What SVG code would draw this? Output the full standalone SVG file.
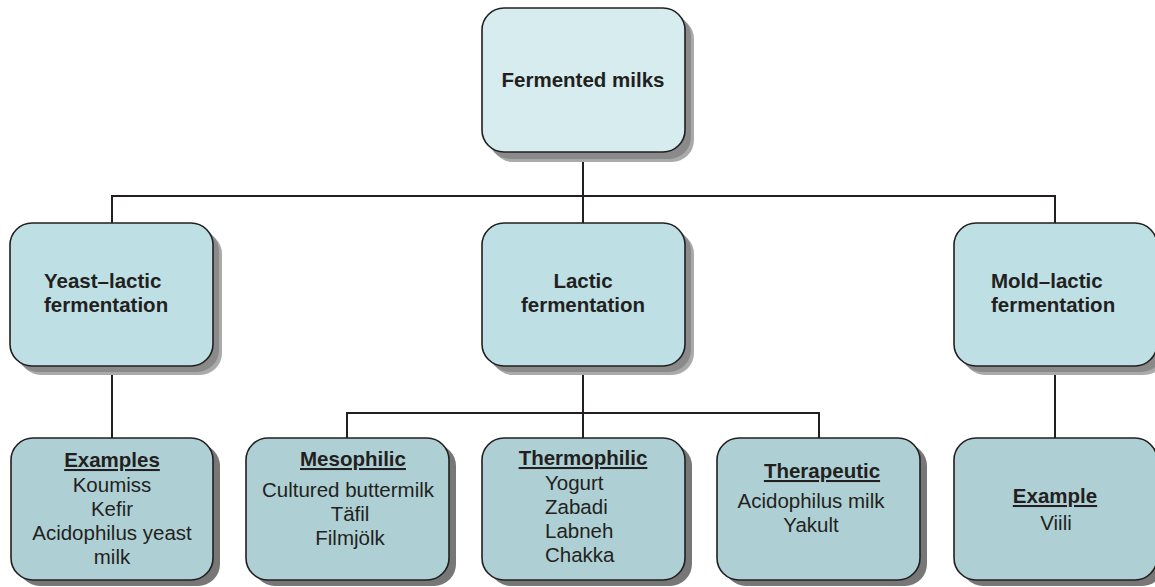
<svg xmlns="http://www.w3.org/2000/svg" width="1155" height="587" viewBox="0 0 1155 587">
  <style>
    .box { stroke: #231f20; stroke-width: 1.6; }
    .l1 { fill: #d6ecee; }
    .l2 { fill: #bee0e4; }
    .l3 { fill: #aed0d4; }
    .sh1 { fill: #aaaaaa; }
    .sh2 { fill: #8a8a8a; }
    .sh3 { fill: #777777; }
    .wire { stroke: #231f20; stroke-width: 2; fill: none; }
    text { font-family: "Liberation Sans", Arial, sans-serif; font-size: 20.5px; fill: #231f20; }
    .b { font-weight: bold; }
    .u { font-weight: bold; text-decoration: underline; }
    .c { text-anchor: middle; }
  </style>

  <rect width="1155" height="587" fill="#ffffff"/>

  <!-- connectors -->
  <g id="connectors">
    <path class="wire" d="M583 152 V196 M112 223 V196 H1055 V223 M583 196 V223"/>
    <path class="wire" d="M112 366 V438"/>
    <path class="wire" d="M583 366 V413 M347 438 V413 H819 V438 M583 413 V438"/>
    <path class="wire" d="M1055 366 V438"/>
  </g>

  <!-- root -->
  <g id="fermented-milks">
    <rect class="sh1" x="491" y="17" width="203" height="145" rx="22"/>
    <rect class="sh2" x="488" y="14" width="203" height="145" rx="22"/>
    <rect class="box l1" x="482" y="8" width="203" height="144" rx="22"/>
    <text class="b c" x="583" y="87">Fermented milks</text>
  </g>

  <!-- second level -->
  <g id="yeast-lactic">
    <rect class="sh1" x="19" y="232" width="203" height="143" rx="22"/>
    <rect class="sh2" x="16" y="229" width="203" height="143" rx="22"/>
    <rect class="box l2" x="10" y="223" width="203" height="143" rx="22"/>
    <text class="b" x="44" y="288">Yeast–lactic</text>
    <text class="b" x="44" y="312">fermentation</text>
  </g>

  <g id="lactic">
    <rect class="sh1" x="491" y="232" width="203" height="143" rx="22"/>
    <rect class="sh2" x="488" y="229" width="203" height="143" rx="22"/>
    <rect class="box l2" x="482" y="223" width="203" height="143" rx="22"/>
    <text class="b c" x="583" y="288">Lactic</text>
    <text class="b c" x="583" y="312">fermentation</text>
  </g>

  <g id="mold-lactic">
    <rect class="sh1" x="963" y="232" width="203" height="143" rx="22"/>
    <rect class="sh2" x="960" y="229" width="203" height="143" rx="22"/>
    <rect class="box l2" x="954" y="223" width="203" height="143" rx="22"/>
    <text class="b" x="991" y="288">Mold–lactic</text>
    <text class="b" x="991" y="312">fermentation</text>
  </g>

  <!-- third level -->
  <g id="examples">
    <rect class="sh3" x="18" y="444" width="202" height="142" rx="22"/>
    <rect class="box l3" x="11" y="438" width="202" height="142" rx="22"/>
    <text class="u c" x="112" y="467">Examples</text>
    <text class="c" x="112" y="492">Koumiss</text>
    <text class="c" x="112" y="516">Kefir</text>
    <text class="c" x="112" y="540">Acidophilus yeast</text>
    <text class="c" x="112" y="564">milk</text>
  </g>

  <g id="mesophilic">
    <rect class="sh3" x="253" y="444" width="203" height="142" rx="22"/>
    <rect class="box l3" x="246" y="438" width="203" height="142" rx="22"/>
    <text class="u c" x="353" y="466">Mesophilic</text>
    <text class="c" x="348" y="497">Cultured buttermilk</text>
    <text class="c" x="350" y="521">Täfil</text>
    <text class="c" x="350" y="545">Filmjölk</text>
  </g>

  <g id="thermophilic">
    <rect class="sh3" x="489" y="444" width="203" height="142" rx="22"/>
    <rect class="box l3" x="482" y="438" width="203" height="142" rx="22"/>
    <text class="u c" x="583" y="465">Thermophilic</text>
    <text x="545" y="490">Yogurt</text>
    <text x="545" y="514">Zabadi</text>
    <text x="545" y="538">Labneh</text>
    <text x="545" y="562">Chakka</text>
  </g>

  <g id="therapeutic">
    <rect class="sh3" x="724" y="444" width="203" height="142" rx="22"/>
    <rect class="box l3" x="717" y="438" width="203" height="142" rx="22"/>
    <text class="u c" x="822" y="478">Therapeutic</text>
    <text class="c" x="811" y="508">Acidophilus milk</text>
    <text class="c" x="811" y="532">Yakult</text>
  </g>

  <g id="example-viili">
    <rect class="sh3" x="961" y="444" width="203" height="142" rx="22"/>
    <rect class="box l3" x="954" y="438" width="203" height="142" rx="22"/>
    <text class="u c" x="1055" y="503">Example</text>
    <text class="c" x="1056" y="530">Viili</text>
  </g>
</svg>
